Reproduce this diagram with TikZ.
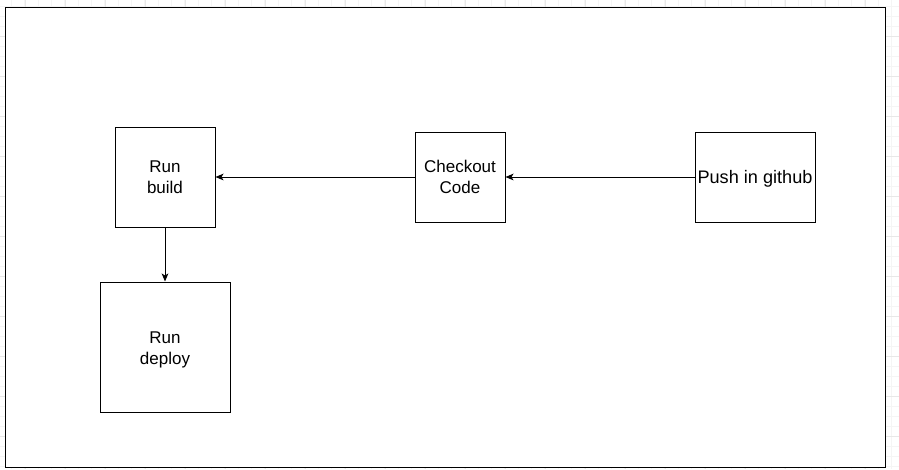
\documentclass[tikz,border=0pt]{standalone}
\usepackage{fontspec}
\setmainfont{Liberation Sans}
\usetikzlibrary{arrows.meta}
\begin{document}
\begin{tikzpicture}[x=0.75pt,y=-0.75pt,
  box/.style={draw=black,line width=0.75pt,fill=white,rectangle,inner sep=0pt,align=center,
    font=\fontsize{12.75}{15.75}\selectfont},
  conn/.style={draw=black,line width=0.75pt,-{Stealth[length=6pt,width=5pt,inset=1.5pt]}},
  gridminor/.style={draw=black!4,line width=0.75pt},
  gridmajor/.style={draw=black!9,line width=0.75pt}]
\useasboundingbox (0,0) rectangle (899,469);
\fill[white] (0,0) rectangle (899,469);
% background grid
\begin{scope}
\clip (0,0) rectangle (899,469);
\foreach \i in {0,...,68} {\draw[gridminor] ({-1.67+13.333*\i},0) -- ({-1.67+13.333*\i},469);}
\foreach \i in {0,...,47} {\draw[gridminor] (0,{6.7+10*\i}) -- (899,{6.7+10*\i});}
\foreach \i in {0,...,23} {\draw[gridmajor] ({-15+40*\i},0) -- ({-15+40*\i},469);}
\foreach \i in {0,...,12} {\draw[gridmajor] (0,{-3.3+40*\i}) -- (899,{-3.3+40*\i});}
\end{scope}
% frame
\node[draw=black,line width=0.75pt,fill=white,rectangle,inner sep=0pt,minimum width=880*0.75pt,minimum height=460*0.75pt] (frame) at (445,237) {};
% boxes
\node[box,minimum width=100*0.75pt,minimum height=100*0.75pt] (build) at (165,177) {Run\\build};
\node[box,minimum width=90*0.75pt,minimum height=90*0.75pt] (checkout) at (460,177) {Checkout\\Code};
\node[box,minimum width=120*0.75pt,minimum height=90*0.75pt,font=\fontsize{13.6}{15.75}\selectfont] (push) at (755,177) {\raisebox{-1.5pt}[\height][\depth]{Push in github}};
\node[box,minimum width=130*0.75pt,minimum height=130*0.75pt] (deploy) at (165,347) {\raisebox{-2pt}[\height][\depth]{\begin{tabular}{@{}c@{}}Run\\deploy\end{tabular}}};
% connectors
\draw[conn] (push) -- (checkout);
\draw[conn] (checkout) -- (build);
\draw[conn] (build) -- (deploy);
\end{tikzpicture}
\end{document}
